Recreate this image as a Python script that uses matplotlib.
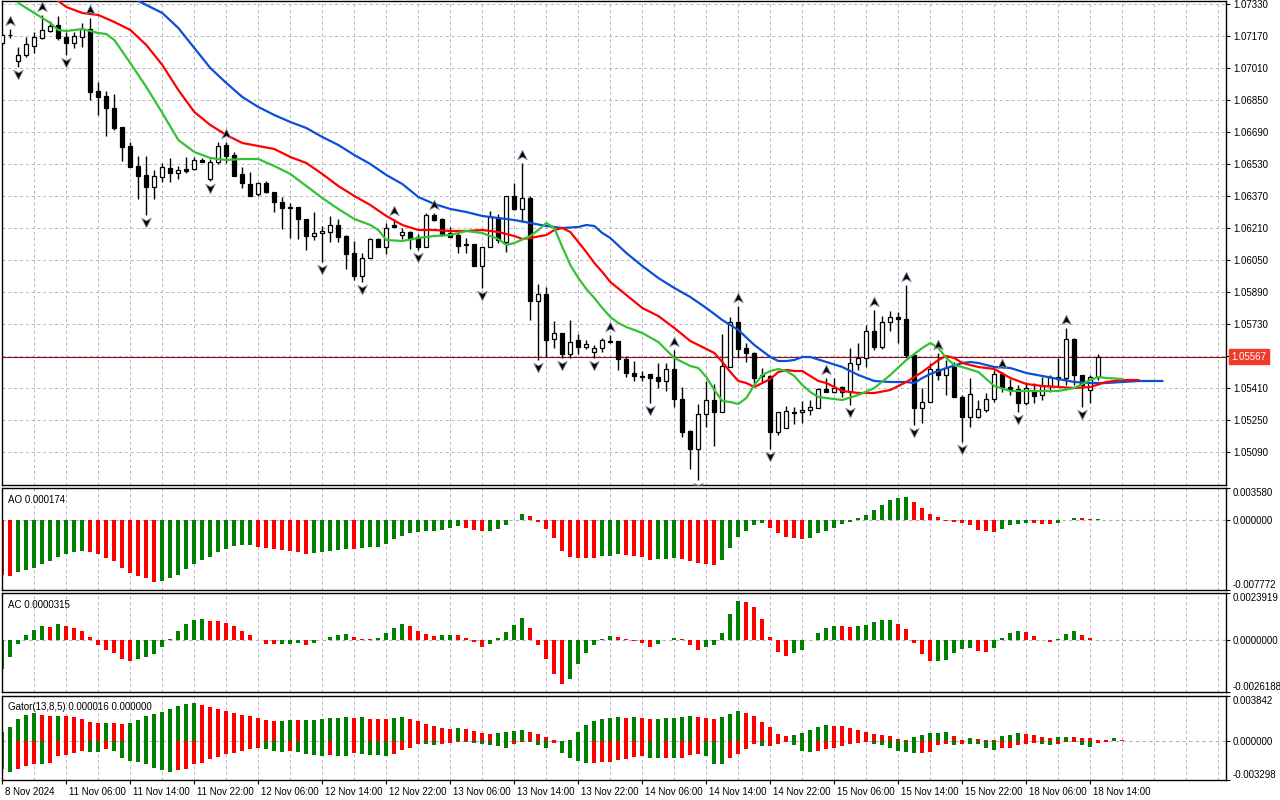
import numpy as np
import matplotlib.pyplot as plt
from matplotlib.path import Path

plt.rcParams['font.family'] = ['Liberation Sans', 'DejaVu Sans']

# EURUSD H1, 8 Nov 2024 22:00 .. 18 Nov 2024 15:00 (one entry per bar)
opens = [1.07135, 1.07175, 1.07045, 1.07075, 1.07120, 1.07160, 1.07195, 1.07225, 1.07165, 1.07135,
         1.07165, 1.07205, 1.06895, 1.06870, 1.06810, 1.06715, 1.06620, 1.06520, 1.06475, 1.06415,
         1.06465, 1.06510, 1.06485, 1.06505, 1.06505, 1.06550, 1.06455, 1.06540, 1.06625, 1.06575,
         1.06480, 1.06430, 1.06380, 1.06435, 1.06390, 1.06340, 1.06315, 1.06315, 1.06255, 1.06170,
         1.06185, 1.06190, 1.06225, 1.06170, 1.06085, 1.05970, 1.06060, 1.06155, 1.06115, 1.06225,
         1.06175, 1.06190, 1.06165, 1.06115, 1.06275, 1.06255, 1.06185, 1.06175, 1.06130, 1.06130,
         1.06020, 1.06115, 1.06260, 1.06140, 1.06370, 1.06305, 1.06360, 1.05845, 1.05880, 1.05655,
         1.05685, 1.05580, 1.05650, 1.05615, 1.05590, 1.05610, 1.05645, 1.05645, 1.05555, 1.05485,
         1.05470, 1.05480, 1.05465, 1.05445, 1.05505, 1.05355, 1.05195, 1.05105, 1.05280, 1.05350,
         1.05290, 1.05515, 1.05740, 1.05610, 1.05585, 1.05475, 1.05470, 1.05190, 1.05210, 1.05290,
         1.05290, 1.05300, 1.05310, 1.05405, 1.05390, 1.05415, 1.05390, 1.05530, 1.05560, 1.05695,
         1.05615, 1.05740, 1.05765, 1.05755, 1.05575, 1.05310, 1.05340, 1.05505, 1.05475, 1.05515,
         1.05365, 1.05265, 1.05265, 1.05300, 1.05355, 1.05480, 1.05415, 1.05405, 1.05335, 1.05395,
         1.05375, 1.05420, 1.05465, 1.05460, 1.05655, 1.05475, 1.05400, 1.05465]
highs = [1.07185, 1.07205, 1.07115, 1.07165, 1.07190, 1.07275, 1.07245, 1.07270, 1.07190, 1.07190,
         1.07235, 1.07260, 1.06940, 1.06895, 1.06880, 1.06715, 1.06640, 1.06570, 1.06570, 1.06500,
         1.06535, 1.06560, 1.06520, 1.06565, 1.06565, 1.06560, 1.06555, 1.06640, 1.06640, 1.06590,
         1.06515, 1.06490, 1.06440, 1.06445, 1.06390, 1.06365, 1.06335, 1.06315, 1.06255, 1.06290,
         1.06220, 1.06270, 1.06255, 1.06175, 1.06145, 1.06085, 1.06160, 1.06160, 1.06235, 1.06255,
         1.06210, 1.06195, 1.06180, 1.06285, 1.06285, 1.06260, 1.06215, 1.06185, 1.06160, 1.06130,
         1.06115, 1.06295, 1.06280, 1.06370, 1.06435, 1.06535, 1.06370, 1.05930, 1.05915, 1.05745,
         1.05685, 1.05750, 1.05680, 1.05650, 1.05625, 1.05660, 1.05675, 1.05645, 1.05570, 1.05545,
         1.05495, 1.05480, 1.05535, 1.05535, 1.05600, 1.05415, 1.05200, 1.05330, 1.05445, 1.05430,
         1.05680, 1.05765, 1.05820, 1.05635, 1.05590, 1.05510, 1.05475, 1.05290, 1.05320, 1.05315,
         1.05345, 1.05350, 1.05410, 1.05460, 1.05460, 1.05420, 1.05610, 1.05635, 1.05725, 1.05800,
         1.05770, 1.05795, 1.05790, 1.05925, 1.05575, 1.05410, 1.05535, 1.05585, 1.05550, 1.05540,
         1.05375, 1.05460, 1.05350, 1.05385, 1.05500, 1.05490, 1.05455, 1.05425, 1.05440, 1.05435,
         1.05465, 1.05475, 1.05560, 1.05710, 1.05660, 1.05475, 1.05475, 1.05580]
lows = [1.07125, 1.07160, 1.07015, 1.07065, 1.07085, 1.07155, 1.07190, 1.07150, 1.07075, 1.07110,
        1.07115, 1.06850, 1.06775, 1.06670, 1.06700, 1.06545, 1.06515, 1.06355, 1.06275, 1.06355,
        1.06440, 1.06440, 1.06455, 1.06485, 1.06500, 1.06540, 1.06445, 1.06530, 1.06535, 1.06470,
        1.06410, 1.06370, 1.06370, 1.06385, 1.06290, 1.06205, 1.06160, 1.06155, 1.06100, 1.06150,
        1.06040, 1.06140, 1.06140, 1.06005, 1.05950, 1.05940, 1.06060, 1.06115, 1.06080, 1.06215,
        1.06155, 1.06105, 1.06100, 1.06115, 1.06245, 1.06170, 1.06165, 1.06085, 1.06085, 1.06020,
        1.05910, 1.06115, 1.06135, 1.06090, 1.06300, 1.06240, 1.05750, 1.05550, 1.05565, 1.05610,
        1.05560, 1.05560, 1.05580, 1.05605, 1.05560, 1.05590, 1.05635, 1.05500, 1.05465, 1.05445,
        1.05445, 1.05335, 1.05410, 1.05395, 1.05315, 1.05165, 1.05005, 1.04950, 1.05215, 1.05120,
        1.05290, 1.05515, 1.05560, 1.05540, 1.05435, 1.05435, 1.05105, 1.05175, 1.05210, 1.05230,
        1.05235, 1.05275, 1.05310, 1.05390, 1.05385, 1.05365, 1.05325, 1.05500, 1.05515, 1.05600,
        1.05605, 1.05695, 1.05635, 1.05565, 1.05225, 1.05235, 1.05340, 1.05450, 1.05375, 1.05365,
        1.05140, 1.05215, 1.05260, 1.05290, 1.05340, 1.05390, 1.05375, 1.05290, 1.05325, 1.05335,
        1.05350, 1.05390, 1.05415, 1.05425, 1.05425, 1.05315, 1.05335, 1.05450]
closes = [1.07175, 1.07177, 1.07075, 1.07130, 1.07165, 1.07200, 1.07220, 1.07160, 1.07135, 1.07170,
          1.07205, 1.06890, 1.06865, 1.06810, 1.06710, 1.06615, 1.06515, 1.06470, 1.06415, 1.06470,
          1.06515, 1.06485, 1.06500, 1.06495, 1.06550, 1.06540, 1.06540, 1.06620, 1.06570, 1.06470,
          1.06435, 1.06370, 1.06435, 1.06390, 1.06340, 1.06310, 1.06310, 1.06255, 1.06170, 1.06185,
          1.06195, 1.06225, 1.06165, 1.06080, 1.05970, 1.06060, 1.06155, 1.06115, 1.06210, 1.06215,
          1.06190, 1.06155, 1.06115, 1.06275, 1.06250, 1.06175, 1.06165, 1.06120, 1.06125, 1.06020,
          1.06115, 1.06265, 1.06150, 1.06370, 1.06305, 1.06360, 1.05845, 1.05880, 1.05650, 1.05685,
          1.05580, 1.05640, 1.05615, 1.05630, 1.05610, 1.05650, 1.05640, 1.05555, 1.05485, 1.05470,
          1.05465, 1.05460, 1.05445, 1.05505, 1.05355, 1.05190, 1.05105, 1.05280, 1.05350, 1.05290,
          1.05520, 1.05740, 1.05605, 1.05585, 1.05460, 1.05470, 1.05190, 1.05290, 1.05295, 1.05285,
          1.05300, 1.05315, 1.05405, 1.05390, 1.05410, 1.05390, 1.05535, 1.05560, 1.05695, 1.05615,
          1.05740, 1.05765, 1.05755, 1.05575, 1.05310, 1.05340, 1.05505, 1.05475, 1.05510, 1.05365,
          1.05265, 1.05380, 1.05305, 1.05355, 1.05480, 1.05410, 1.05405, 1.05335, 1.05410, 1.05370,
          1.05420, 1.05465, 1.05455, 1.05655, 1.05475, 1.05425, 1.05465, 1.05567]
bid = 1.05567

fractal_up = [1, 5, 11, 28, 49, 54, 65, 76, 84, 92, 103, 109, 113, 117, 125, 133]
fractal_down = [2, 8, 18, 26, 40, 45, 52, 60, 67, 70, 74, 81, 87, 96, 106, 114, 120, 127, 135]

# Alligator lines (bar, price) as drawn, already shifted forward
jaw_bar = [17, 18, 20, 22, 24, 26, 28, 30, 32, 34, 36, 38, 40, 42, 44, 46, 48, 50, 52, 54, 56, 58,
           60, 62, 64, 66, 68, 70, 72, 73, 74, 75, 76, 78, 80, 82, 84, 86, 88, 90, 92, 94, 96, 97,
           98, 99, 100, 101, 103, 105, 107, 109, 111, 113, 114, 115, 116, 118, 120, 121, 122, 124,
           126, 128, 130, 132, 134, 136, 138, 140, 142, 145]
jaw = [1.07345, 1.07325, 1.07285, 1.07210, 1.07110, 1.07010, 1.06935, 1.06865, 1.06815, 1.06775,
       1.06740, 1.06710, 1.06665, 1.06625, 1.06575, 1.06530, 1.06475, 1.06430, 1.06365, 1.06330,
       1.06305, 1.06290, 1.06270, 1.06260, 1.06250, 1.06235, 1.06220, 1.06210, 1.06215, 1.06225,
       1.06220, 1.06185, 1.06160, 1.06085, 1.06020, 1.05960, 1.05910, 1.05865, 1.05810, 1.05750,
       1.05700, 1.05625, 1.05565, 1.05545, 1.05545, 1.05550, 1.05565, 1.05565, 1.05540, 1.05515,
       1.05475, 1.05445, 1.05440, 1.05440, 1.05435, 1.05460, 1.05480, 1.05510, 1.05535, 1.05540,
       1.05535, 1.05515, 1.05510, 1.05485, 1.05470, 1.05455, 1.05440, 1.05435, 1.05435, 1.05440,
       1.05445, 1.05445]
teeth_bar = [7, 8, 10, 12, 14, 16, 18, 20, 22, 24, 26, 28, 30, 32, 34, 36, 38, 40, 42, 44, 46, 48,
             50, 52, 54, 56, 58, 60, 62, 63, 64, 65, 66, 68, 69, 70, 71, 72, 73, 74, 75, 76, 78, 80,
             82, 84, 86, 88, 89, 90, 91, 92, 93, 94, 95, 96, 97, 98, 99, 100, 101, 102, 103, 105,
             107, 109, 111, 113, 115, 117, 118, 119, 120, 122, 124, 126, 128, 130, 132, 134, 136,
             138, 140, 142]
teeth = [1.07345, 1.07315, 1.07285, 1.07275, 1.07240, 1.07200, 1.07125, 1.07025, 1.06900, 1.06790,
         1.06725, 1.06675, 1.06635, 1.06620, 1.06605, 1.06565, 1.06535, 1.06480, 1.06420, 1.06370,
         1.06325, 1.06270, 1.06225, 1.06200, 1.06200, 1.06195, 1.06195, 1.06200, 1.06190, 1.06180,
         1.06170, 1.06155, 1.06160, 1.06175, 1.06200, 1.06210, 1.06190, 1.06140, 1.06090, 1.06035,
         1.05990, 1.05940, 1.05875, 1.05810, 1.05770, 1.05710, 1.05645, 1.05605, 1.05585, 1.05540,
         1.05490, 1.05445, 1.05435, 1.05415, 1.05435, 1.05455, 1.05490, 1.05500, 1.05495, 1.05495,
         1.05470, 1.05445, 1.05435, 1.05395, 1.05385, 1.05385, 1.05400, 1.05440, 1.05490, 1.05550,
         1.05570, 1.05560, 1.05535, 1.05515, 1.05505, 1.05460, 1.05430, 1.05420, 1.05415, 1.05410,
         1.05415, 1.05440, 1.05450, 1.05450]
lips_bar = [2, 4, 6, 7, 8, 10, 12, 13, 14, 16, 18, 20, 22, 24, 26, 28, 30, 32, 34, 36, 38, 40, 42,
            44, 46, 47, 48, 50, 52, 54, 56, 58, 60, 62, 63, 64, 66, 67, 68, 69, 70, 71, 72, 73, 74,
            75, 76, 77, 78, 80, 82, 84, 86, 87, 88, 89, 90, 91, 92, 93, 94, 95, 96, 97, 98, 99, 100,
            101, 102, 103, 105, 107, 109, 111, 113, 115, 116, 117, 118, 119, 120, 122, 124, 126,
            128, 130, 132, 134, 136, 137, 138, 140]
lips = [1.07335, 1.07285, 1.07235, 1.07200, 1.07195, 1.07205, 1.07185, 1.07180, 1.07150, 1.07035,
        1.06915, 1.06785, 1.06650, 1.06590, 1.06560, 1.06550, 1.06555, 1.06555, 1.06520, 1.06480,
        1.06420, 1.06360, 1.06305, 1.06255, 1.06225, 1.06200, 1.06150, 1.06145, 1.06160, 1.06170,
        1.06175, 1.06195, 1.06185, 1.06155, 1.06125, 1.06135, 1.06170, 1.06200, 1.06235, 1.06210,
        1.06115, 1.06025, 1.05960, 1.05905, 1.05860, 1.05810, 1.05765, 1.05735, 1.05715, 1.05685,
        1.05640, 1.05560, 1.05520, 1.05510, 1.05465, 1.05400, 1.05345, 1.05340, 1.05330, 1.05360,
        1.05425, 1.05475, 1.05495, 1.05505, 1.05495, 1.05470, 1.05425, 1.05390, 1.05365, 1.05360,
        1.05350, 1.05375, 1.05410, 1.05475, 1.05550, 1.05610, 1.05635, 1.05610, 1.05560, 1.05525,
        1.05515, 1.05490, 1.05420, 1.05395, 1.05395, 1.05395, 1.05395, 1.05410, 1.05450, 1.05465,
        1.05460, 1.05455]

# Awesome Oscillator, Accelerator, Gator (values in pips, 1 pip = 0.0001)
ao = [-60.5, -61.6, -58.2, -56.0, -53.1, -48.6, -44.9, -40.8, -38.2, -35.2,
      -33.8, -35.2, -38.2, -41.9, -44.9, -53.1, -58.6, -62.0, -64.9, -68.3,
      -67.2, -64.9, -60.5, -54.9, -49.3, -43.8, -40.8, -34.9, -31.9, -28.6,
      -28.0, -27.8, -29.7, -30.8, -32.3, -33.0, -33.8, -34.9, -37.1, -36.0,
      -35.6, -33.8, -33.0, -31.9, -32.3, -30.8, -30.4, -29.7, -26.3, -21.5,
      -17.1, -14.8, -13.7, -12.2, -11.5, -10.4, -8.2, -7.0, -8.5, -10.4,
      -12.6, -11.5, -9.3, -5.6, 0.2, 7.0, 4.5, -1.5, -9.3, -20.4,
      -33.8, -40.8, -41.6, -41.9, -42.3, -40.4, -39.7, -38.2, -39.3, -39.7,
      -40.8, -43.8, -43.4, -43.0, -41.6, -42.7, -44.9, -47.5, -49.3, -49.7,
      -43.8, -31.5, -18.2, -11.5, -5.9, -3.7, -8.2, -14.8, -18.6, -19.3,
      -21.5, -19.7, -14.8, -11.5, -8.2, -4.8, -1.5, 2.2, 5.9, 11.5,
      17.1, 22.3, 24.9, 26.0, 20.4, 13.7, 7.0, 3.3, -0.7, -1.5,
      -3.7, -5.9, -10.4, -12.6, -13.0, -9.3, -5.9, -4.5, -3.3, -3.7,
      -4.5, -4.8, -3.0, 0.4, 2.2, 1.9, 1.5, 1.74]
ac = [-14.7, -8.7, -1.7, 2.8, 5.4, 7.2, 6.7, 8.2, 7.2, 6.0,
      4.7, 1.7, -2.2, -4.7, -6.2, -9.7, -10.7, -9.7, -8.4, -7.2,
      -3.2, 0.5, 4.7, 8.4, 10.2, 10.7, 9.7, 9.5, 8.7, 7.0,
      4.7, 2.8, 0.3, -1.7, -2.0, -1.8, -1.7, -1.3, -2.5, -1.2,
      0.2, 1.7, 2.8, 3.4, 1.7, 0.8, 0.7, 1.0, 3.7, 6.2,
      8.2, 7.2, 4.7, 3.2, 2.2, 2.7, 2.8, 2.5, 1.2, -0.7,
      -3.4, -1.7, 1.2, 4.2, 7.7, 11.2, 6.2, -2.3, -9.4, -16.9,
      -21.9, -19.4, -11.9, -6.4, -2.3, 0.5, 2.2, 1.7, 0.7, -0.2,
      -1.3, -3.4, -1.7, 0.2, 1.0, 0.7, -2.2, -4.9, -3.4, -2.2,
      3.7, 13.2, 19.8, 19.3, 16.8, 10.7, 1.7, -5.9, -7.9, -6.7,
      -4.9, 0.2, 3.7, 6.2, 7.2, 7.0, 6.7, 7.2, 7.7, 9.2,
      10.2, 10.3, 8.2, 5.7, -1.2, -7.2, -10.7, -10.6, -10.2, -6.2,
      -4.4, -3.9, -5.2, -5.9, -3.7, 1.2, 3.7, 4.7, 4.2, 2.2,
      0.1, -0.7, 0.7, 3.2, 4.7, 2.7, 1.2, 0.315]
gator_up = [7.8, 12.0, 18.8, 22.1, 23.8, 22.1, 21.3, 21.6, 21.3, 20.2,
            18.8, 16.2, 15.4, 15.5, 15.4, 14.6, 15.4, 17.9, 21.0, 23.0,
            24.6, 27.2, 29.7, 31.4, 32.2, 30.5, 28.8, 27.2, 25.5, 23.8,
            22.1, 21.3, 19.6, 17.9, 17.1, 17.2, 17.9, 17.8, 17.9, 18.1,
            18.8, 19.6, 19.7, 20.4, 19.6, 20.4, 19.0, 18.9, 18.8, 19.9,
            20.7, 19.0, 17.4, 14.6, 12.9, 11.5, 10.6, 11.5, 10.6, 8.7,
            7.0, 6.2, 7.0, 7.8, 9.0, 9.8, 7.8, 6.2, 3.6, 1.4,
            0.3, 1.1, 8.1, 13.7, 17.1, 19.0, 19.9, 20.7, 19.9, 20.7,
            19.9, 19.0, 19.2, 19.9, 20.0, 20.7, 21.6, 20.7, 19.9, 19.0,
            20.7, 23.2, 25.8, 23.8, 21.3, 16.2, 12.0, 6.2, 4.5, 5.3,
            7.0, 9.5, 12.0, 13.7, 12.9, 12.7, 11.2, 9.5, 7.8, 6.2,
            5.3, 4.5, 2.0, 1.1, 3.6, 5.3, 7.0, 7.1, 7.8, 4.5,
            0.6, 2.8, 2.0, 1.1, 0.8, 4.5, 5.3, 7.0, 6.2, 5.3,
            3.6, 2.8, 3.6, 3.8, 3.6, 2.8, 2.5, 1.1, 1.0, 2.8,
            0.8, 0.3, 0.16]
gator_down = [23.8, 26.6, 23.8, 21.0, 19.0, 19.2, 18.2, 12.6, 12.0, 10.4,
              8.4, 9.0, 9.1, 7.0, 8.4, 14.0, 16.8, 17.6, 19.6, 22.4,
              24.6, 25.8, 24.6, 23.8, 19.6, 18.2, 15.4, 13.4, 11.2, 10.4,
              8.4, 7.0, 6.2, 7.0, 8.4, 9.0, 8.4, 9.0, 10.6, 12.0,
              12.9, 12.0, 12.3, 12.6, 9.8, 11.2, 11.5, 12.0, 12.9, 11.2,
              7.8, 6.2, 2.5, 2.8, 3.6, 2.0, 1.7, 0.6, 0.7, 1.4,
              2.2, 3.4, 4.5, 5.6, 2.8, 0.6, 1.1, 3.6, 5.9, 1.4,
              9.8, 14.6, 16.8, 18.8, 18.2, 18.1, 17.4, 16.2, 15.4, 13.4,
              12.9, 14.0, 14.6, 14.4, 14.6, 14.0, 11.8, 11.2, 12.9, 19.0,
              19.6, 14.6, 11.2, 7.0, 2.0, 4.5, 4.2, 2.2, 0.8, 3.6,
              8.1, 9.0, 8.1, 7.0, 5.6, 3.9, 2.8, 1.4, 0.8, 2.2,
              3.6, 6.2, 8.7, 9.5, 10.4, 10.2, 9.5, 3.6, 2.8, 3.6,
              2.0, 2.5, 2.7, 6.2, 7.3, 6.2, 5.6, 3.6, 2.2, 1.4,
              2.5, 3.4, 2.0, 1.1, 0.6, 3.6, 4.8, 1.4, 0.8, 0.14,
              0.0]

time_labels = ['8 Nov 2024', '11 Nov 06:00', '11 Nov 14:00', '11 Nov 22:00', '12 Nov 06:00',
               '12 Nov 14:00', '12 Nov 22:00', '13 Nov 06:00', '13 Nov 14:00', '13 Nov 22:00',
               '14 Nov 06:00', '14 Nov 14:00', '14 Nov 22:00', '15 Nov 06:00', '15 Nov 14:00',
               '15 Nov 22:00', '18 Nov 06:00', '18 Nov 14:00']
price_ticks = [1.0509, 1.0525, 1.0541, 1.0557, 1.0573, 1.0589, 1.0605, 1.0621,
               1.0637, 1.0653, 1.0669, 1.0685, 1.0701, 1.0717, 1.0733]

GREEN = '#008000'
RED = '#ff0000'
GRID = '#b9b2c4'
FS = 7

W, H = 1280, 800
fig = plt.figure(figsize=(W / 100, H / 100), dpi=100)


def panel(top, bottom, left=2, right=1226):
    ax = fig.add_axes([left / W, 1 - bottom / H, (right - left) / W, (bottom - top) / H])
    ax.set_xlim(-0.04, 152.96)
    for s in ax.spines.values():
        s.set_color('black')
        s.set_linewidth(1)
    ax.yaxis.tick_right()
    ax.tick_params(axis='y', length=3, width=0.8, labelsize=FS, pad=2, colors='black')
    ax.tick_params(axis='x', length=0, labelbottom=False)
    for k in range(4, 153, 4):
        ax.axvline(k, color=GRID, lw=0.7, ls=(0, (3, 3)), zorder=0)
    return ax


def rising_colours(vals, first):
    cols = [first]
    for i in range(1, len(vals)):
        cols.append(GREEN if vals[i] > vals[i - 1] else RED)
    return cols


# ---- main price panel
ax = panel(1, 485)
ax.set_ylim(1.04925, 1.07345)
ax.set_yticks(price_ticks)
ax.set_yticklabels(['%.5f' % p for p in price_ticks])
for p in price_ticks:
    ax.axhline(p, color=GRID, lw=0.7, ls=(0, (3, 3)), zorder=0)

x = np.arange(len(opens))
o, h, l, c = map(np.array, (opens, highs, lows, closes))
ax.vlines(x, l, h, color='black', lw=1, zorder=2)
bull = c >= o
body_lo = np.minimum(o, c)
body_h = np.maximum(np.abs(c - o), 0.000001)
ax.bar(x[bull], body_h[bull], bottom=body_lo[bull], width=0.46, color='white',
       edgecolor='black', lw=0.9, zorder=3)
ax.bar(x[~bull], body_h[~bull], bottom=body_lo[~bull], width=0.46, color='black',
       edgecolor='black', lw=0.9, zorder=3)

ax.axhline(bid, color='#8b1010', lw=0.8, zorder=1.5)

ax.plot(jaw_bar, jaw, color='#0a4fd6', lw=1.6, zorder=4)
ax.plot(teeth_bar, teeth, color='#ff0000', lw=1.6, zorder=4)
ax.plot(lips_bar, lips, color='#33c233', lw=1.6, zorder=4)

arrow_up = Path([(0, 1.0), (0.9, -0.8), (0, -0.3), (-0.9, -0.8), (0, 1.0)],
                [Path.MOVETO, Path.LINETO, Path.LINETO, Path.LINETO, Path.CLOSEPOLY])
arrow_down = Path([(0, -1.0), (0.9, 0.8), (0, 0.3), (-0.9, 0.8), (0, -1.0)],
                  [Path.MOVETO, Path.LINETO, Path.LINETO, Path.LINETO, Path.CLOSEPOLY])
ax.plot(fractal_up, h[fractal_up] + 0.0004, ls='none', marker=arrow_up, ms=7.5,
        mfc='black', mec='#8a8aa0', mew=0.6, zorder=5)
ax.plot(fractal_down, l[fractal_down] - 0.00035, ls='none', marker=arrow_down, ms=7.5,
        mfc='black', mec='#8a8aa0', mew=0.6, zorder=5)

ax.annotate('%.5f' % bid, xy=(1.0, bid), xycoords=('axes fraction', 'data'),
            xytext=(4, 0), textcoords='offset points', va='center', ha='left',
            fontsize=FS, color='white',
            bbox=dict(boxstyle='square,pad=0.25', fc='#f03a2a', ec='#f03a2a'))


# ---- indicator panels
def indicator(top, bottom, lo, hi, fmt, title):
    a = panel(top, bottom)
    a.set_ylim(lo, hi)
    a.set_yticks([hi, 0, lo])
    labels = a.set_yticklabels([fmt % hi, fmt % 0, fmt % lo])
    labels[0].set_va('top')
    labels[2].set_va('bottom')
    a.axhline(0, color='#b0b0b0', lw=0.8, ls=(0, (3, 3)), zorder=0)
    a.text(6 / 1224, 0.93, title, transform=a.transAxes, fontsize=FS, va='top', ha='left')
    return a


ao_v = np.array(ao) * 1e-4
ax_ao = indicator(488, 590, -0.007772, 0.003580, '%.6f', 'AO %.6f' % ao_v[-1])
ax_ao.bar(np.arange(len(ao_v)), ao_v, width=0.5, color=rising_colours(ao_v, RED), zorder=2)

ac_v = np.array(ac) * 1e-4
ax_ac = indicator(593, 692, -0.0026188, 0.0023919, '%.7f', 'AC %.7f' % ac_v[-1])
ax_ac.bar(np.arange(len(ac_v)), ac_v, width=0.5, color=rising_colours(ac_v, GREEN), zorder=2)

gu = np.array(gator_up) * 1e-4
gd = np.array(gator_down) * 1e-4
ax_g = indicator(696, 780, -0.003298, 0.003842, '%.6f', 'Gator(13,8,5) 0.000016 0.000000')
ax_g.bar(np.arange(len(gu)), gu, width=0.5, color=rising_colours(gu, GREEN), zorder=2)
ax_g.bar(np.arange(len(gd)), -gd, width=0.5, color=rising_colours(gd, GREEN), zorder=2)

ax_g.set_xticks(np.arange(0, 8 * len(time_labels), 8))
ax_g.tick_params(axis='x', length=3, width=0.8, direction='out')
for i, s in enumerate(time_labels):
    ax_g.annotate(s, xy=(8 * i, 0), xycoords=('data', 'axes fraction'),
                  xytext=(2, -5), textcoords='offset points', ha='left', va='top', fontsize=FS)

fig.savefig('out.png', dpi=100, facecolor='white')
